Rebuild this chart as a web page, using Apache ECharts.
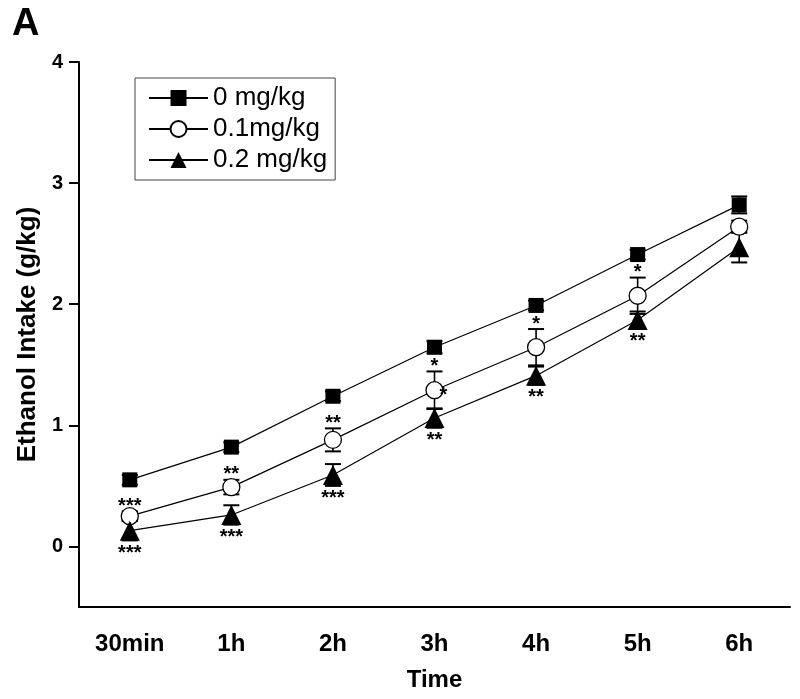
<!DOCTYPE html>
<html><head><meta charset="utf-8">
<script src="https://cdn.jsdelivr.net/npm/echarts@6/dist/echarts.min.js"></script>
<style>html,body{margin:0;padding:0;background:#fff}#c{width:800px;height:699px}</style>
</head><body><div id="c"></div>
<script>
// ---- data ----
const categories = ['30min', '1h', '2h', '3h', '4h', '5h', '6h'];
const seriesNames = ['0 mg/kg', '0.1mg/kg', '0.2 mg/kg'];
const dose0 = [0.55, 0.82, 1.24, 1.645, 1.99, 2.41, 2.82];
const dose0Err = [0.04, 0.04, 0.04, 0.05, 0.04, 0.04, 0.07];
const dose01 = [0.25, 0.49, 0.88, 1.29, 1.645, 2.07, 2.64];
const dose01Err = [0.04, 0.06, 0.095, 0.155, 0.15, 0.15, 0.05];
const dose02 = [0.13, 0.26, 0.59, 1.06, 1.41, 1.87, 2.47];
const dose02Err = [0.08, 0.08, 0.09, 0.08, 0.075, 0.07, 0.125];
const sig01Above = ['***', '**', '**', '*', '*', '*', ''];
const sig01Inside = ['', '', '', '*', '', '', ''];
const sig02Below = ['***', '***', '***', '**', '**', '**', ''];
const yTicks = [0, 1, 2, 3, 4];
const yMin = -0.5, yMax = 4;

const FONT = "'Liberation Sans', Arial, sans-serif";

function errData(vals, errs) { return vals.map((v, i) => [i, v, errs[i]]); }

function errRender(params, api) {
  const x = api.value(0), v = api.value(1), e = api.value(2);
  const t = api.coord([x, v + e]), b = api.coord([x, v - e]);
  const hw = 8;
  return {
    type: 'group', children: [
      { type: 'line', shape: { x1: t[0], y1: t[1], x2: b[0], y2: b[1] }, style: { stroke: '#000', lineWidth: 1.6 } },
      { type: 'line', shape: { x1: t[0] - hw, y1: t[1], x2: t[0] + hw, y2: t[1] }, style: { stroke: '#000', lineWidth: 2 } },
      { type: 'line', shape: { x1: b[0] - hw, y1: b[1], x2: b[0] + hw, y2: b[1] }, style: { stroke: '#000', lineWidth: 2 } }
    ]
  };
}

function sigRender(labels, dir, dx, dy) {
  return function (params, api) {
    const x = api.value(0), v = api.value(1), e = api.value(2);
    const txt = labels[params.dataIndex];
    if (!txt) return null;
    const p = api.coord([x, v + dir * e]);
    return {
      type: 'text', x: p[0] + dx, y: p[1] + dy,
      style: { text: txt, fill: '#000', font: 'bold 20px ' + FONT, align: 'center', verticalAlign: 'middle' }
    };
  };
}

const chart = echarts.init(document.getElementById('c'), null, { renderer: 'canvas' });
chart.setOption({
  animation: false,
  backgroundColor: '#fff',
  graphic: [{ type: 'text', left: 12, top: 6, style: { text: 'A', font: 'bold 38px ' + FONT, fill: '#000' } }],
  grid: { left: 79, right: 10, top: 62, bottom: 92, containLabel: false },
  legend: {
    data: seriesNames,
    orient: 'vertical', left: 135, top: 78,
    itemWidth: 59, itemHeight: 20, itemGap: 5,
    padding: [7, 8, 7, 13],
    borderColor: '#444', borderWidth: 1,
    textStyle: { fontSize: 26, fontFamily: FONT, color: '#000' }
  },
  xAxis: {
    type: 'category', data: categories, boundaryGap: true,
    name: 'Time', nameLocation: 'middle', nameGap: 61,
    nameTextStyle: { fontSize: 24, fontWeight: 'bold', fontFamily: FONT, color: '#000' },
    axisLine: { onZero: false, lineStyle: { color: '#000', width: 2 } },
    axisTick: { alignWithLabel: true, length: 11, lineStyle: { color: '#000', width: 2 } },
    axisLabel: { fontSize: 24, fontWeight: 'bold', fontFamily: FONT, color: '#000', margin: 25 },
    splitLine: { show: false }
  },
  yAxis: {
    type: 'value', min: yMin, max: yMax,
    name: 'Ethanol Intake (g/kg)', nameLocation: 'middle', nameGap: 38,
    nameTextStyle: { fontSize: 26, fontWeight: 'bold', fontFamily: FONT, color: '#000' },
    axisLine: { show: true, onZero: false, lineStyle: { color: '#000', width: 2 } },
    axisTick: { show: true, length: 10, customValues: yTicks, lineStyle: { color: '#000', width: 2 } },
    axisLabel: { fontSize: 20, fontWeight: 'bold', fontFamily: FONT, color: '#000', margin: 16, customValues: yTicks },
    splitLine: { show: false }
  },
  series: [
    { type: 'custom', renderItem: errRender, data: errData(dose0, dose0Err), z: 1, silent: true },
    { type: 'custom', renderItem: errRender, data: errData(dose01, dose01Err), z: 1, silent: true },
    { type: 'custom', renderItem: errRender, data: errData(dose02, dose02Err), z: 1, silent: true },
    {
      name: seriesNames[0], type: 'line', data: dose0, z: 2,
      symbol: 'rect', symbolSize: 15, showAllSymbol: true,
      lineStyle: { color: '#000', width: 1.2 },
      itemStyle: { color: '#000', borderColor: '#000', borderWidth: 0 }
    },
    {
      name: seriesNames[1], type: 'line', data: dose01, z: 2,
      symbol: 'circle', symbolSize: 17, showAllSymbol: true,
      lineStyle: { color: '#000', width: 1.2 },
      itemStyle: { color: '#fff', borderColor: '#000', borderWidth: 1.3 }
    },
    {
      name: seriesNames[2], type: 'line', data: dose02, z: 2,
      symbol: 'triangle', symbolSize: 20, showAllSymbol: true,
      lineStyle: { color: '#000', width: 1.2 },
      itemStyle: { color: '#000', borderColor: '#000', borderWidth: 0 }
    },
    { type: 'custom', renderItem: sigRender(sig01Above, 1, 0, -5), data: errData(dose01, dose01Err), z: 3, silent: true },
    { type: 'custom', renderItem: sigRender(sig01Inside, 0, 9, 5), data: errData(dose01, dose01Err), z: 3, silent: true },
    { type: 'custom', renderItem: sigRender(sig02Below, -1, 0, 13), data: errData(dose02, dose02Err), z: 3, silent: true }
  ]
});
</script>
</body></html>
